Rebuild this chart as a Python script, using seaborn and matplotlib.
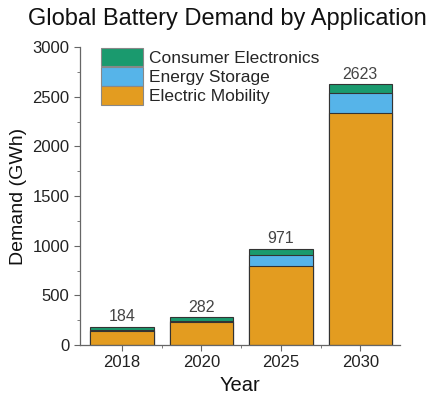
import matplotlib
matplotlib.use("Agg")
import matplotlib.pyplot as plt
import seaborn as sns
import pandas as pd
import numpy as np
from matplotlib.ticker import MultipleLocator
from matplotlib.patches import Patch

years = ["2018", "2020", "2025", "2030"]
electric_mobility = [136, 230, 800, 2333]
energy_storage = [12, 14, 105, 207]
consumer_electronics = [36, 38, 66, 83]
totals = [184, 282, 971, 2623]

c_green = "#1a9a6e"
c_blue = "#56b4e9"
c_orange = "#e39c20"

sns.set_style("ticks")
plt.rcParams['font.family'] = ['Liberation Sans', 'DejaVu Sans']

df = pd.DataFrame({
    "Year": years,
    "EM": electric_mobility,
    "ES": energy_storage,
    "CE": consumer_electronics,
})
df["L2"] = df["EM"] + df["ES"]
df["L3"] = df["L2"] + df["CE"]

fig = plt.figure(figsize=(4.34, 3.98), dpi=100)
ax = fig.add_axes([80/434, 1 - 345/398, 320/434, 298/398])

edge = "#333333"
sns.barplot(data=df, x="Year", y="L3", color=c_green, saturation=1, width=0.8,
            edgecolor=edge, linewidth=0.8, ax=ax)
sns.barplot(data=df, x="Year", y="L2", color=c_blue, saturation=1, width=0.8,
            edgecolor=edge, linewidth=0.8, ax=ax)
sns.barplot(data=df, x="Year", y="EM", color=c_orange, saturation=1, width=0.8,
            edgecolor=edge, linewidth=0.8, ax=ax)

for i, t in enumerate(totals):
    ax.text(i, df["L3"][i] + 25, str(t), ha="center", va="bottom",
            fontsize=11.5, color="#444444")

ax.set_ylim(0, 3000)
ax.set_xlim(-0.53, 3.5)
ax.yaxis.set_major_locator(MultipleLocator(500))
ax.yaxis.set_minor_locator(MultipleLocator(250))
ax.set_xticks([0.5, 1.5, 2.5], minor=True)
sns.despine(ax=ax)
for s in ["left", "bottom"]:
    ax.spines[s].set_color("#666666")
    ax.spines[s].set_linewidth(0.9)
ax.tick_params(axis="both", which="major", direction="out", length=4,
               color="#666666", labelsize=12, labelcolor="#222222")
ax.tick_params(axis="both", which="minor", direction="out", length=2.5,
               color="#666666")

ax.set_ylabel("Demand (GWh)", fontsize=14, color="#111111", labelpad=4)
ax.set_xlabel("Year", fontsize=14.5, color="#111111", labelpad=4)

fig.text(0.525, 0.952, "Global Battery Demand by Application", ha="center",
         va="center", fontsize=17, color="#111111")

handles = [Patch(facecolor=c_green, edgecolor="#888888", linewidth=0.8),
           Patch(facecolor=c_blue, edgecolor="#888888", linewidth=0.8),
           Patch(facecolor=c_orange, edgecolor="#888888", linewidth=0.8)]
labels = ["Consumer Electronics", "Energy Storage", "Electric Mobility"]
ax.legend(handles, labels, loc="upper left", bbox_to_anchor=(0.045, 1.02),
          frameon=False, fontsize=12.5, handlelength=2.4, handleheight=1.25,
          labelspacing=0.05, handletextpad=0.35, borderaxespad=0)

fig.savefig("out.png", dpi=100)
